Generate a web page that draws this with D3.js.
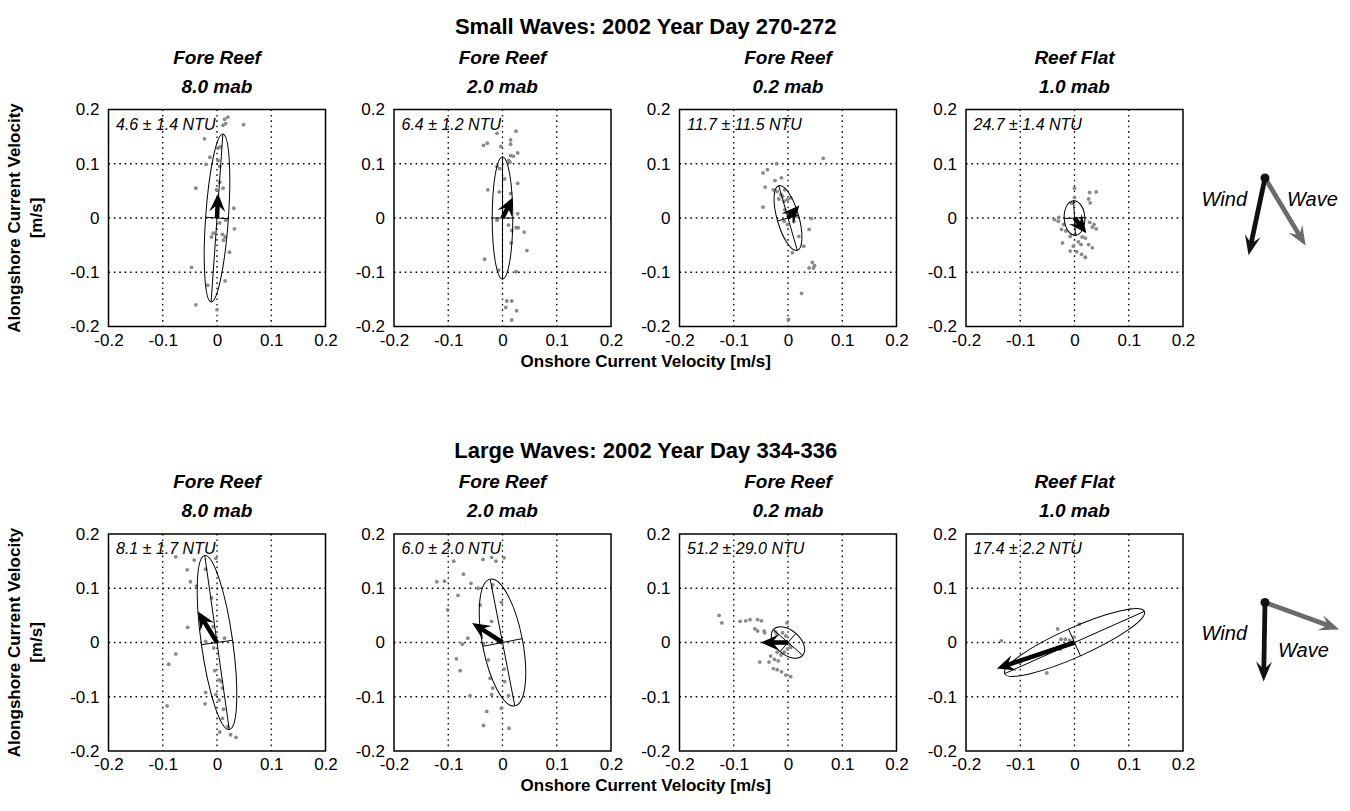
<!DOCTYPE html>
<html><head><meta charset="utf-8">
<script src="https://cdn.jsdelivr.net/npm/d3@7"></script>
<style>
body{margin:0;background:#fff;}
svg{display:block;font-family:"Liberation Sans",Arial,Helvetica,sans-serif;}
</style></head><body>
<svg id="chart" width="1350" height="811"></svg>
<script>
// ---------- data ----------
const rowTitles = ["Small Waves: 2002 Year Day 270-272", "Large Waves: 2002 Year Day 334-336"];
const siteNames = ["Fore Reef", "Fore Reef", "Fore Reef", "Reef Flat"];
const siteHeights = ["8.0 mab", "2.0 mab", "0.2 mab", "1.0 mab"];
const tickValues = [-0.2, -0.1, 0, 0.1, 0.2];
const tickLabels = ["-0.2", "-0.1", "0", "0.1", "0.2"];
const xAxisTitle = "Onshore Current Velocity [m/s]";
const yAxisTitle = ["Alongshore Current Velocity", "[m/s]"];

const smallNTU = ["4.6 ± 1.4 NTU", "6.4 ± 1.2 NTU", "11.7 ± 11.5 NTU", "24.7 ± 1.4 NTU"];
const largeNTU = ["8.1 ± 1.7 NTU", "6.0 ± 2.0 NTU", "51.2 ± 29.0 NTU", "17.4 ± 2.2 NTU"];

// principal-axis variance ellipses (m/s) and orientation (deg, counter-clockwise from onshore)
const smallMajor = [0.155, 0.113, 0.062, 0.032];
const smallMinor = [0.021, 0.019, 0.020, 0.019];
const smallAngle = [86, 90, 106, 93];
const largeMajor = [0.162, 0.119, 0.036, 0.141];
const largeMinor = [0.029, 0.037, 0.022, 0.027];
const largeAngle = [98, 101, 139, 24];

// mean current vectors (u onshore, v alongshore), m/s
const smallMeanU = [0.002, 0.019, 0.021, 0.022];
const smallMeanV = [0.045, 0.038, 0.023, -0.028];
const largeMeanU = [-0.035, -0.056, -0.050, -0.143];
const largeMeanV = [0.057, 0.036, 0.000, -0.048];

// velocity samples [u, v]
const smallFR8 = [[0.020,0.186],[0.014,0.182],[0.016,0.174],[0.011,0.171],[0.049,0.172],[-0.023,0.146],[0.002,0.129],[0.006,0.131],[-0.013,0.112],[-0.020,0.099],[0.002,0.106],[0.005,0.095],[-0.039,0.055],[0.005,0.066],[0.011,0.055],[-0.001,0.052],[0.031,0.018],[0.016,-0.004],[0.005,-0.009],[0.032,-0.020],[-0.007,-0.028],[-0.010,-0.035],[0.010,-0.030],[0.015,-0.035],[0.012,-0.041],[0.023,-0.063],[-0.047,-0.091],[0.015,-0.116],[-0.017,-0.124],[-0.039,-0.160],[0.000,-0.169]];
const smallFR2 = [[0.025,0.160],[-0.010,0.156],[-0.028,0.138],[-0.035,0.134],[-0.003,0.132],[0.015,0.144],[0.015,0.136],[0.028,0.120],[0.015,0.115],[0.020,0.114],[0.011,0.106],[0.014,0.103],[-0.010,0.095],[-0.005,0.091],[0.004,0.072],[0.028,0.064],[-0.027,0.052],[0.015,0.045],[-0.006,0.048],[0.011,0.025],[0.028,0.008],[-0.010,-0.004],[0.011,-0.013],[0.025,-0.018],[0.029,-0.018],[0.017,-0.023],[0.040,-0.026],[0.016,-0.046],[0.045,-0.060],[-0.033,-0.076],[-0.007,-0.096],[0.025,-0.099],[0.008,-0.153],[0.017,-0.153],[0.006,-0.165],[0.026,-0.171],[0.017,-0.188]];
const smallFR02 = [[-0.021,0.100],[-0.038,0.089],[-0.046,0.083],[-0.012,0.074],[-0.024,0.069],[-0.042,0.057],[-0.027,0.052],[-0.020,0.049],[-0.013,0.043],[-0.006,0.052],[-0.010,0.040],[-0.017,0.035],[-0.007,0.031],[-0.001,0.034],[-0.046,0.020],[0.005,0.037],[-0.006,0.015],[0.002,0.009],[-0.007,-0.006],[0.011,-0.006],[-0.001,-0.012],[0.043,-0.001],[0.017,0.003],[0.039,-0.021],[0.020,-0.034],[0.029,-0.052],[0.008,-0.064],[0.045,-0.082],[0.049,-0.088],[0.039,-0.092],[0.047,-0.092],[0.025,-0.139],[0.001,-0.187],[0.065,0.110]];
const smallRF1 = [[0.000,0.055],[0.000,0.038],[-0.005,0.027],[-0.029,0.001],[-0.037,-0.003],[-0.030,-0.006],[-0.020,-0.012],[-0.024,-0.021],[-0.016,-0.024],[-0.022,-0.046],[-0.008,-0.034],[0.001,-0.030],[0.007,-0.044],[0.012,-0.049],[-0.002,-0.052],[-0.008,-0.061],[0.004,-0.062],[0.013,-0.067],[0.020,-0.073],[0.028,0.047],[0.040,0.048],[0.026,0.035],[0.029,0.028],[0.036,-0.012],[0.040,-0.020],[0.033,-0.017],[0.028,-0.008],[0.020,-0.037],[0.014,-0.035],[0.026,-0.049],[0.033,-0.055],[0.020,-0.072]];
const largeFR8 = [[-0.076,0.158],[-0.042,0.152],[-0.002,0.155],[-0.055,0.134],[-0.021,0.135],[-0.049,0.112],[-0.038,0.104],[-0.010,0.082],[-0.054,0.028],[-0.007,0.029],[0.014,0.008],[-0.021,0.002],[-0.006,-0.010],[-0.076,-0.021],[-0.089,-0.040],[-0.004,-0.052],[0.004,-0.069],[0.008,-0.072],[0.010,-0.084],[-0.021,-0.092],[-0.002,-0.096],[-0.092,-0.117],[-0.022,-0.113],[0.012,-0.123],[0.004,-0.106],[0.010,-0.140],[0.020,-0.155],[0.025,-0.170],[0.035,-0.175],[0.005,-0.165]];
const largeFR2 = [[-0.090,0.150],[-0.036,0.153],[-0.020,0.157],[-0.012,0.150],[0.003,0.156],[-0.072,0.126],[-0.121,0.112],[-0.107,0.113],[-0.058,0.109],[-0.045,0.100],[-0.018,0.106],[-0.082,0.087],[-0.101,0.060],[-0.041,0.069],[-0.002,0.074],[-0.020,0.039],[-0.064,0.008],[-0.074,-0.003],[-0.035,-0.002],[-0.085,-0.030],[-0.026,-0.032],[-0.078,-0.052],[0.003,-0.049],[-0.023,-0.066],[0.004,-0.072],[-0.018,-0.084],[-0.060,-0.098],[0.011,-0.098],[-0.020,-0.096],[-0.029,-0.127],[-0.002,-0.121],[-0.035,-0.153],[0.012,-0.158]];
const largeFR02 = [[-0.127,0.050],[-0.122,0.036],[-0.088,0.039],[-0.078,0.040],[-0.070,0.042],[-0.056,0.042],[-0.049,0.040],[-0.061,0.025],[-0.056,0.021],[-0.044,0.021],[-0.043,0.018],[-0.023,0.020],[-0.020,0.015],[-0.010,0.018],[-0.002,0.036],[-0.004,0.012],[-0.010,0.000],[0.002,-0.003],[0.005,-0.009],[-0.020,-0.018],[-0.013,-0.023],[-0.032,-0.025],[-0.025,-0.031],[-0.018,-0.034],[-0.052,-0.036],[-0.035,-0.036],[-0.007,-0.018],[-0.001,-0.012],[-0.027,-0.048],[-0.020,-0.050],[-0.012,-0.054],[-0.004,-0.060],[0.005,-0.063]];
const largeRF1 = [[-0.135,0.003],[-0.031,0.025],[0.009,0.034],[-0.025,0.006],[-0.017,0.006],[-0.009,0.004],[-0.001,0.010],[-0.026,-0.012],[-0.051,-0.056],[-0.080,-0.026],[-0.100,-0.036]];

// wind and wave headings (deg clockwise from north, direction travelled)
const windHeading = [192, 181];
const waveHeading = [149, 110];

// ---------- assembly ----------
const rows = [
  {title: rowTitles[0], ntu: smallNTU, major: smallMajor, minor: smallMinor, angle: smallAngle,
   u: smallMeanU, v: smallMeanV, pts: [smallFR8, smallFR2, smallFR02, smallRF1],
   wind: windHeading[0], wave: waveHeading[0]},
  {title: rowTitles[1], ntu: largeNTU, major: largeMajor, minor: largeMinor, angle: largeAngle,
   u: largeMeanU, v: largeMeanV, pts: [largeFR8, largeFR2, largeFR02, largeRF1],
   wind: windHeading[1], wave: waveHeading[1]}
];

const svg = d3.select("#chart");
const size = 217;
const colX = [108.5, 394, 679.5, 966];
const rowY = [109.5, 534];
const x = d3.scaleLinear().domain([-0.2, 0.2]).range([0, size]);
const y = d3.scaleLinear().domain([-0.2, 0.2]).range([size, 0]);
const k = size / 0.4;

// filled arrow with a swept-back head
function arrowPath(x0, y0, x1, y1, sw, hl, hw) {
  const dx = x1 - x0, dy = y1 - y0, L = Math.hypot(dx, dy);
  const ux = dx / L, uy = dy / L, px = -uy, py = ux;
  const bx = x1 - ux * hl, by = y1 - uy * hl;
  const nx = x1 - ux * hl * 0.72, ny = y1 - uy * hl * 0.72;
  const p = [
    [x0 + px * sw / 2, y0 + py * sw / 2],
    [nx + px * sw / 2, ny + py * sw / 2],
    [bx + px * hw / 2, by + py * hw / 2],
    [x1, y1],
    [bx - px * hw / 2, by - py * hw / 2],
    [nx - px * sw / 2, ny - py * sw / 2],
    [x0 - px * sw / 2, y0 - py * sw / 2]
  ];
  return "M" + p.map(d => d.join(",")).join("L") + "Z";
}

svg.append("defs").append("clipPath").attr("id", "plotclip")
  .append("rect").attr("width", size).attr("height", size);

const midX = (colX[0] + colX[3] + size) / 2;

rows.forEach((row, r) => {
  const T = rowY[r];
  svg.append("text")
    .attr("x", midX).attr("y", T - 76)
    .attr("text-anchor", "middle").attr("font-weight", "bold").attr("font-size", 22)
    .text(row.title);

  // shared axis titles
  svg.append("text")
    .attr("x", midX).attr("y", T + size + 40)
    .attr("text-anchor", "middle").attr("font-weight", "bold").attr("font-size", 17)
    .text(xAxisTitle);
  const yt = svg.append("text")
    .attr("transform", `translate(0,${T + size / 2}) rotate(-90)`)
    .attr("text-anchor", "middle").attr("font-weight", "bold").attr("font-size", 17);
  yt.append("tspan").attr("x", 0).attr("y", 20).text(yAxisTitle[0]);
  yt.append("tspan").attr("x", 0).attr("y", 42).text(yAxisTitle[1]);

  for (let c = 0; c < 4; c++) {
    const g = svg.append("g").attr("transform", `translate(${colX[c]},${T})`);

    g.append("text").attr("x", size / 2).attr("y", -46)
      .attr("text-anchor", "middle").attr("font-weight", "bold").attr("font-style", "italic")
      .attr("font-size", 19).text(siteNames[c]);
    g.append("text").attr("x", size / 2).attr("y", -17)
      .attr("text-anchor", "middle").attr("font-weight", "bold").attr("font-style", "italic")
      .attr("font-size", 19).text(siteHeights[c]);

    // dotted grid
    const grid = g.append("g").attr("stroke", "#000").attr("stroke-width", 1.3)
      .attr("stroke-dasharray", "1.6,3.8");
    [-0.1, 0, 0.1].forEach(v => {
      grid.append("line").attr("x1", x(v)).attr("x2", x(v)).attr("y1", 0).attr("y2", size);
      grid.append("line").attr("y1", y(v)).attr("y2", y(v)).attr("x1", 0).attr("x2", size);
    });

    // axes
    const ax = g.append("g").attr("transform", `translate(0,${size})`)
      .call(d3.axisBottom(x).tickValues(tickValues).tickFormat((d, i) => tickLabels[i])
        .tickSize(0).tickPadding(7));
    const ay = g.append("g")
      .call(d3.axisLeft(y).tickValues(tickValues).tickFormat((d, i) => tickLabels[i])
        .tickSize(0).tickPadding(9));
    [ax, ay].forEach(a => {
      a.select(".domain").remove();
      a.selectAll("text").attr("font-size", 17).attr("fill", "#000")
        .attr("font-family", '"Liberation Sans",Arial,sans-serif');
    });

    const plot = g.append("g").attr("clip-path", "url(#plotclip)");

    // samples
    plot.selectAll("circle.s").data(row.pts[c]).join("circle")
      .attr("class", "s").attr("cx", d => x(d[0])).attr("cy", d => y(d[1]))
      .attr("r", 1.9).attr("fill", "#8a8a8a");

    // variance ellipse with principal axes
    const a = row.major[c], b = row.minor[c], th = row.angle[c] * Math.PI / 180;
    plot.append("ellipse").attr("cx", x(0)).attr("cy", y(0))
      .attr("rx", a * k).attr("ry", b * k)
      .attr("transform", `rotate(${-row.angle[c]},${x(0)},${y(0)})`)
      .attr("fill", "none").attr("stroke", "#000").attr("stroke-width", 1);
    plot.append("line")
      .attr("x1", x(-a * Math.cos(th))).attr("y1", y(-a * Math.sin(th)))
      .attr("x2", x(a * Math.cos(th))).attr("y2", y(a * Math.sin(th)))
      .attr("stroke", "#000").attr("stroke-width", 1);
    plot.append("line")
      .attr("x1", x(b * Math.sin(th))).attr("y1", y(-b * Math.cos(th)))
      .attr("x2", x(-b * Math.sin(th))).attr("y2", y(b * Math.cos(th)))
      .attr("stroke", "#000").attr("stroke-width", 1);

    // mean current
    plot.append("path")
      .attr("d", arrowPath(x(0), y(0), x(row.u[c]), y(row.v[c]), 4.5, 18, 16))
      .attr("fill", "#000");

    g.append("text").attr("x", 7.5).attr("y", 20)
      .attr("font-style", "italic").attr("font-size", 16).text(row.ntu[c]);

    g.append("rect").attr("width", size).attr("height", size)
      .attr("fill", "none").attr("stroke", "#000").attr("stroke-width", 1.5);
  }

  // wind / wave key
  const ox = 1265, oy = T + 68.5, len = 79;
  const tip = h => [ox + len * Math.sin(h * Math.PI / 180), oy - len * Math.cos(h * Math.PI / 180)];
  const wt = tip(row.wind), vt = tip(row.wave);
  svg.append("path").attr("d", arrowPath(ox, oy, vt[0], vt[1], 4.8, 20, 16)).attr("fill", "#6b6b6b");
  svg.append("path").attr("d", arrowPath(ox, oy, wt[0], wt[1], 4.8, 20, 16)).attr("fill", "#111");
  svg.append("circle").attr("cx", ox).attr("cy", oy).attr("r", 4.5).attr("fill", "#111");
  svg.append("text").attr("x", 1247).attr("y", r === 0 ? oy + 27.5 : oy + 37)
    .attr("text-anchor", "end").attr("font-style", "italic").attr("font-size", 20).text("Wind");
  svg.append("text").attr("x", r === 0 ? 1287 : 1278).attr("y", r === 0 ? oy + 27.5 : oy + 54)
    .attr("font-style", "italic").attr("font-size", 20).text("Wave");
});
</script>
</body></html>
